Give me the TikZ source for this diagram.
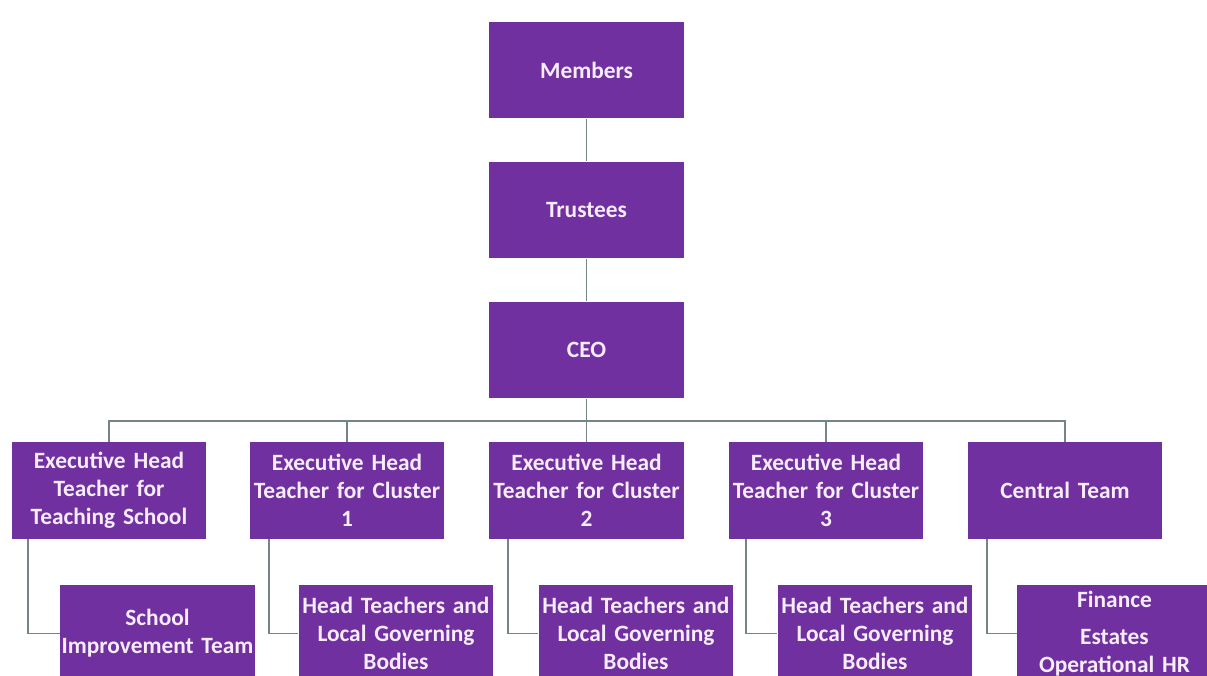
\documentclass[tikz,border=0pt]{standalone}
\usepackage{fontspec}
\setmainfont{Carlito}
\definecolor{boxpurple}{HTML}{7030A0}
\definecolor{boxtext}{HTML}{F6ECFA}
\definecolor{linegray}{HTML}{758586}
\begin{document}
\begin{tikzpicture}[x=0.02cm,y=-0.02cm,
  box/.style={fill=boxpurple, text=boxtext, font=\fontsize{13.3pt}{15.9pt}\selectfont\bfseries,
    align=center, inner sep=1pt, minimum height=1.94cm, minimum width=3.9cm, text width=3.8cm},
  conn/.style={draw=linegray, line width=1.1pt}]
\useasboundingbox (0,0) rectangle (1207,676);
\clip (0,0) rectangle (1207,676);
\fill[white] (0,0) rectangle (1207,676);

\node[box] (mem) at (586.5,70) {Members};
\node[box] (tru) at (586.5,210) {Trustees};
\node[box] (ceo) at (586.5,350) {CEO};

\node[box] (e1) at (109,490.5) {Executive Head\\Teacher for\\Teaching School};
\node[box] (e2) at (347,490.5) {Executive Head\\Teacher for Cluster\\1};
\node[box] (e3) at (586.5,490.5) {Executive Head\\Teacher for Cluster\\2};
\node[box] (e4) at (826,490.5) {Executive Head\\Teacher for Cluster\\3};
\node[box] (e5) at (1065,490.5) {Central Team};

\node[box] (c1) at (157.5,633.5) {School\\\makebox[3.8cm][c]{Improvement Team}};
\node[box] (c2) at (396,633.5) {Head Teachers and\\Local Governing\\Bodies};
\node[box] (c3) at (636,633.5) {Head Teachers and\\Local Governing\\Bodies};
\node[box] (c4) at (875,633.5) {Head Teachers and\\Local Governing\\Bodies};
\node[box] (c5) at (1114.5,633.5) {Finance\\[5pt]Estates\\Operational HR};

\coordinate (bar) at (586.5,421);
\draw[conn] (mem.south) -- (tru.north);
\draw[conn] (tru.south) -- (ceo.north);
\draw[conn] (ceo.south) -- (bar);
\foreach \n in {e1,e2,e3,e4,e5} {
  \draw[conn] (bar) -| (\n.north);
}
\draw[conn] ([xshift=17*0.02cm]e1.south west) |- (c1.west);
\draw[conn] ([xshift=20*0.02cm]e2.south west) |- (c2.west);
\draw[conn] ([xshift=19*0.02cm]e3.south west) |- (c3.west);
\draw[conn] ([xshift=18*0.02cm]e4.south west) |- (c4.west);
\draw[conn] ([xshift=20*0.02cm]e5.south west) |- (c5.west);
\end{tikzpicture}
\end{document}
